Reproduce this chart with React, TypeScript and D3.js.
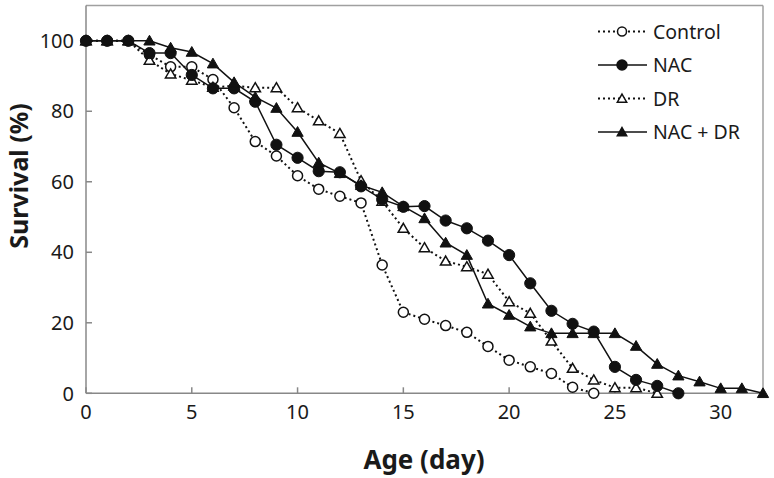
import React from "react";
import * as d3 from "d3";

const seriesNames = ["Control", "NAC", "DR", "NAC + DR"];
const controlValues = [100, 100, 100, 96, 92.6, 92.6, 89, 81, 71.4, 67.3, 61.7, 57.9, 55.9, 54, 36.4, 23, 21, 19.2, 17.3, 13.3, 9.4, 7.5, 5.6, 1.7, 0];
const nacValues = [100, 100, 100, 96.5, 96.5, 90.3, 86.5, 86.5, 82.7, 70.5, 66.8, 63, 62.7, 58.7, 55, 52.9, 53.1, 49, 46.8, 43.3, 39.2, 31.2, 23.4, 19.7, 17.5, 7.5, 3.8, 2.1, 0];
const drValues = [100, 100, 100, 94.5, 90.6, 88.8, 86.8, 87.2, 86.7, 86.7, 81, 77.3, 73.7, 60.3, 54.5, 46.8, 41.3, 37.5, 35.9, 33.8, 26, 22.7, 14.8, 7.1, 3.8, 1.6, 1.6, 0];
const nacDrValues = [100, 100, 100, 100, 98, 96.8, 93.5, 88.2, 84, 80.9, 74.1, 65.4, 62.4, 59, 57, 53, 49.6, 42.7, 39.2, 25.4, 22.2, 18.9, 17, 17, 17, 17, 13.4, 8.3, 5, 3.3, 1.4, 1.4, 0];
const xTicks = [0, 5, 10, 15, 20, 25, 30];
const yTicks = [0, 20, 40, 60, 80, 100];

type Style = { dotted: boolean; marker: "circle" | "triangle"; filled: boolean };
const styles: Style[] = [
  { dotted: true, marker: "circle", filled: false },
  { dotted: false, marker: "circle", filled: true },
  { dotted: true, marker: "triangle", filled: false },
  { dotted: false, marker: "triangle", filled: true },
];
const allValues = [controlValues, nacValues, drValues, nacDrValues];

const W = 774;
const H = 478;
const x = d3.scaleLinear().domain([0, 32]).range([86, 763]);
const y = d3.scaleLinear().domain([0, 110]).range([393.3, 5.5]);
const FONT = "'Noto Sans', 'DejaVu Sans', sans-serif";

function Marker({ cx, cy, s }: { cx: number; cy: number; s: Style }) {
  const fill = s.filled ? "#111" : "#fff";
  if (s.marker === "circle") {
    return <circle cx={cx} cy={cy} r={s.filled ? 5.6 : 5} fill={fill} stroke="#111" strokeWidth={s.filled ? 1 : 1.5} />;
  }
  const r = s.filled ? 6.5 : 6;
  const tri = d3.symbol(d3.symbolTriangle, r * r * 1.3)();
  return <path d={tri || ""} transform={`translate(${cx},${cy + 1})`} fill={fill} stroke="#111" strokeWidth={s.filled ? 1 : 1.5} />;
}

export default function App() {
  const line = d3.line<number>().x((_, i) => x(i)).y((v) => y(v));
  const order = [0, 2, 1, 3];
  return (
    <svg width={W} height={H} style={{ display: "block", position: "absolute", left: 0, top: 0, background: "#fff" }}>
      <line x1={x(0)} x2={x(32)} y1={y(110)} y2={y(110)} stroke="#a0a0a0" strokeWidth={1.5} />
      <line x1={x(32)} x2={x(32)} y1={y(110)} y2={y(0)} stroke="#a0a0a0" strokeWidth={1.5} />
      <line x1={x(0)} x2={x(0)} y1={y(110)} y2={y(0)} stroke="#888" strokeWidth={1.5} />
      <line x1={x(0)} x2={x(32)} y1={y(0)} y2={y(0)} stroke="#888" strokeWidth={1.5} />
      {yTicks.map((t) => (
        <g key={"y" + t}>
          <line x1={x(0)} x2={x(0) + 6} y1={y(t)} y2={y(t)} stroke="#888" strokeWidth={1.5} />
          <text x={74} y={y(t)} dy="0.36em" textAnchor="end" fontFamily={FONT} fontSize={20} fill="#1a1a1a">{t}</text>
        </g>
      ))}
      {xTicks.map((t) => (
        <g key={"x" + t}>
          <line x1={x(t)} x2={x(t)} y1={y(0)} y2={y(0) - 6} stroke="#888" strokeWidth={1.5} />
          <text x={x(t)} y={419} textAnchor="middle" fontFamily={FONT} fontSize={20} fill="#1a1a1a">{t}</text>
        </g>
      ))}
      <text transform="translate(28,176) rotate(-90)" textAnchor="middle" fontFamily={FONT} fontWeight="bold" fontSize={25} fill="#1a1a1a">Survival (%)</text>
      <text x={424} y={469} textAnchor="middle" fontFamily={FONT} fontWeight="bold" fontSize={26} fill="#1a1a1a">Age (day)</text>
      {order.map((k) => {
        const s = styles[k];
        const vals = allValues[k];
        return (
          <g key={"s" + k}>
            <path d={line(vals) || ""} fill="none" stroke="#111" strokeWidth={s.dotted ? 2 : 1.5} strokeDasharray={s.dotted ? "2,3" : undefined} />
            {vals.map((v, i) => <Marker key={i} cx={x(i)} cy={y(v)} s={s} />)}
          </g>
        );
      })}
      {seriesNames.map((n, k) => {
        const s = styles[k];
        const ly = 31.5 + 33.5 * k;
        return (
          <g key={"l" + k}>
            <line x1={598} x2={647} y1={ly} y2={ly} stroke="#111" strokeWidth={s.dotted ? 2 : 1.5} strokeDasharray={s.dotted ? "2,3" : undefined} />
            {s.marker === "circle" ? (
              <circle cx={622} cy={ly} r={s.filled ? 5 : 4.5} fill={s.filled ? "#111" : "#fff"} stroke="#111" strokeWidth={1.5} />
            ) : (
              <path d={d3.symbol(d3.symbolTriangle, 38)() || ""} transform={`translate(622,${ly + 1})`} fill={s.filled ? "#111" : "#fff"} stroke="#111" strokeWidth={1.5} />
            )}
            <text x={653} y={ly} dy="0.36em" fontFamily={FONT} fontSize={19.5} fill="#1a1a1a">{n}</text>
          </g>
        );
      })}
    </svg>
  );
}
